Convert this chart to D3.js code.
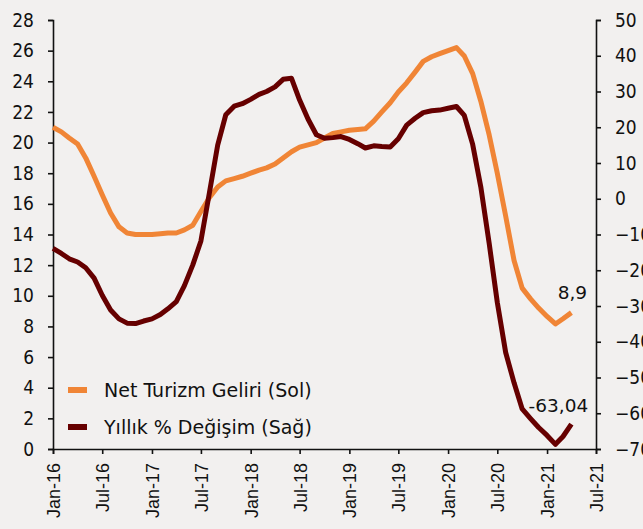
<!DOCTYPE html>
<html>
<head>
<meta charset="utf-8">
<script src="https://cdn.jsdelivr.net/npm/d3@7"></script>
<style>
  body { margin: 0; background: #f2f0ef; }
  #dataviz svg { display: block; }
  text { font-family: "DejaVu Sans Condensed", "DejaVu Sans", sans-serif; fill: #111; }
  .xlab { font-family: "Liberation Sans", Arial, sans-serif; }
  .wide { font-family: "DejaVu Sans", sans-serif; }
</style>
</head>
<body>
<div id="dataviz"></div>
<script>
// monthly data, Jan-16 .. Apr-21
const startMonth = new Date(2016, 0, 1);

// Net Turizm Geliri (left axis, bn USD, 12m rolling)
const netTurizm = [
    21.0, 20.7, 20.3, 19.9, 19.0, 17.8, 16.6, 15.4, 14.5, 14.1, 14.0, 14.0,
    14.0, 14.05, 14.1, 14.1, 14.3, 14.6, 15.5, 16.4, 17.1, 17.5, 17.65, 17.8,
    18.0, 18.2, 18.35, 18.6, 19.0, 19.4, 19.7, 19.85, 20.0, 20.3, 20.6, 20.7,
    20.8, 20.85, 20.9, 21.4, 22.0, 22.6, 23.3, 23.9, 24.6, 25.3, 25.6, 25.8,
    26.0, 26.2, 25.65, 24.5, 22.7, 20.5, 18.0, 15.2, 12.3, 10.5, 9.8, 9.2,
    8.65, 8.16, 8.5, 8.9
];

// Yillik % Degisim (right axis)
const yillikDegisim = [
    -13.9, -15.3, -16.8, -17.7, -19.3, -22.2, -27.0, -31.1, -33.6, -34.8, -34.9, -34.2,
    -33.6, -32.4, -30.8, -28.8, -24.3, -18.5, -11.8, 1.5, 15.0, 23.5, 25.9, 26.6,
    27.8, 29.2, 30.0, 31.3, 33.4, 33.7, 27.6, 22.3, 17.9, 16.9, 17.1, 17.4,
    16.6, 15.4, 14.2, 14.8, 14.6, 14.5, 16.8, 20.6, 22.5, 24.1, 24.6, 24.8,
    25.3, 25.8, 23.3, 15.2, 3.3, -12.5, -29.0, -43.0, -51.5, -58.8, -61.5, -64.0,
    -66.2, -68.7, -66.5, -63.04
];

const leftTicks = d3.range(0, 29, 2);
const rightTicks = d3.range(-70, 51, 10);
const xTickLabels = ["Jan-16", "Jul-16", "Jan-17", "Jul-17", "Jan-18", "Jul-18",
    "Jan-19", "Jul-19", "Jan-20", "Jul-20", "Jan-21", "Jul-21"];
const seriesNames = ["Net Turizm Geliri (Sol)", "Yıllık % Değişim (Sağ)"];
const lastLabels = ["8,9", "-63,04"];

const colors = ["#f08536", "#660000"];

// set the dimensions and margins of the graph
const W = 643, H = 529;
const margin = { top: 20, right: 47, bottom: 80, left: 53 };
const width = W - margin.left - margin.right,
    height = H - margin.top - margin.bottom;

const svg = d3.select("#dataviz")
    .append("svg")
    .attr("width", W)
    .attr("height", H)
    .append("g")
    .attr("transform", `translate(${margin.left}, ${margin.top})`);

const dates = netTurizm.map((d, i) => new Date(2016, i, 1));
const xTickDates = xTickLabels.map((d, i) => new Date(2016, i * 6, 1));

const x = d3.scaleTime()
    .domain([startMonth, new Date(2021, 6, 1)])
    .range([0, width]);
const yL = d3.scaleLinear().domain([0, 28]).range([height, 0]);
const yR = d3.scaleLinear().domain([-70, 50]).range([height, 0]);

// axes
const axisL = svg.append("g")
    .call(d3.axisLeft(yL).tickValues(leftTicks).tickSize(5).tickPadding(14));
const axisR = svg.append("g")
    .attr("transform", `translate(${width}, 0)`)
    .call(d3.axisRight(yR).tickValues(rightTicks).tickSize(5).tickPadding(14));
const axisB = svg.append("g")
    .attr("transform", `translate(0, ${height})`)
    .call(d3.axisBottom(x).tickValues(xTickDates).tickSize(5)
        .tickFormat((d, i) => xTickLabels[i]));

[axisL, axisR, axisB].forEach(a => {
    a.select(".domain").attr("stroke", "#111").attr("stroke-width", 1.6);
    a.selectAll(".tick line").attr("stroke", "#111").attr("stroke-width", 1.6);
});
axisL.selectAll("text").style("font-size", "19px").attr("fill", "#111");
axisR.selectAll("text").style("font-size", "19px").attr("fill", "#111");
axisB.selectAll("text")
    .attr("class", "xlab")
    .style("font-size", "18px")
    .attr("fill", "#111")
    .attr("transform", "rotate(-90)")
    .attr("x", -14)
    .attr("y", 0)
    .attr("dy", "0.36em")
    .style("text-anchor", "end");

// lines
const lineL = d3.line().x((d, i) => x(dates[i])).y(d => yL(d));
const lineR = d3.line().x((d, i) => x(dates[i])).y(d => yR(d));

svg.append("path")
    .datum(netTurizm)
    .attr("fill", "none")
    .attr("stroke", colors[0])
    .attr("stroke-width", 5)
    .attr("stroke-linejoin", "round")
    .attr("d", lineL);

svg.append("path")
    .datum(yillikDegisim)
    .attr("fill", "none")
    .attr("stroke", colors[1])
    .attr("stroke-width", 5)
    .attr("stroke-linejoin", "round")
    .attr("d", lineR);

// last value labels
const n = netTurizm.length - 1;
svg.append("text")
    .attr("class", "wide")
    .attr("x", x(dates[n]) + 1)
    .attr("y", yL(netTurizm[n]) - 14)
    .attr("text-anchor", "middle")
    .style("font-size", "18.5px")
    .text(lastLabels[0]);
svg.append("text")
    .attr("class", "wide")
    .attr("x", x(dates[n]) - 13)
    .attr("y", yR(yillikDegisim[n]) - 12)
    .attr("text-anchor", "middle")
    .style("font-size", "18.5px")
    .text(lastLabels[1]);

// legend
const legend = svg.append("g").attr("transform", "translate(15, 370)");
seriesNames.forEach((name, i) => {
    const g = legend.append("g").attr("transform", `translate(0, ${i * 37})`);
    g.append("rect")
        .attr("x", 0).attr("y", -3)
        .attr("width", 19).attr("height", 6)
        .attr("fill", colors[i]);
    g.append("text")
        .attr("class", "wide")
        .attr("x", 36).attr("y", 0)
        .attr("dy", "0.36em")
        .style("font-size", "19px")
        .text(name);
});
</script>
</body>
</html>
